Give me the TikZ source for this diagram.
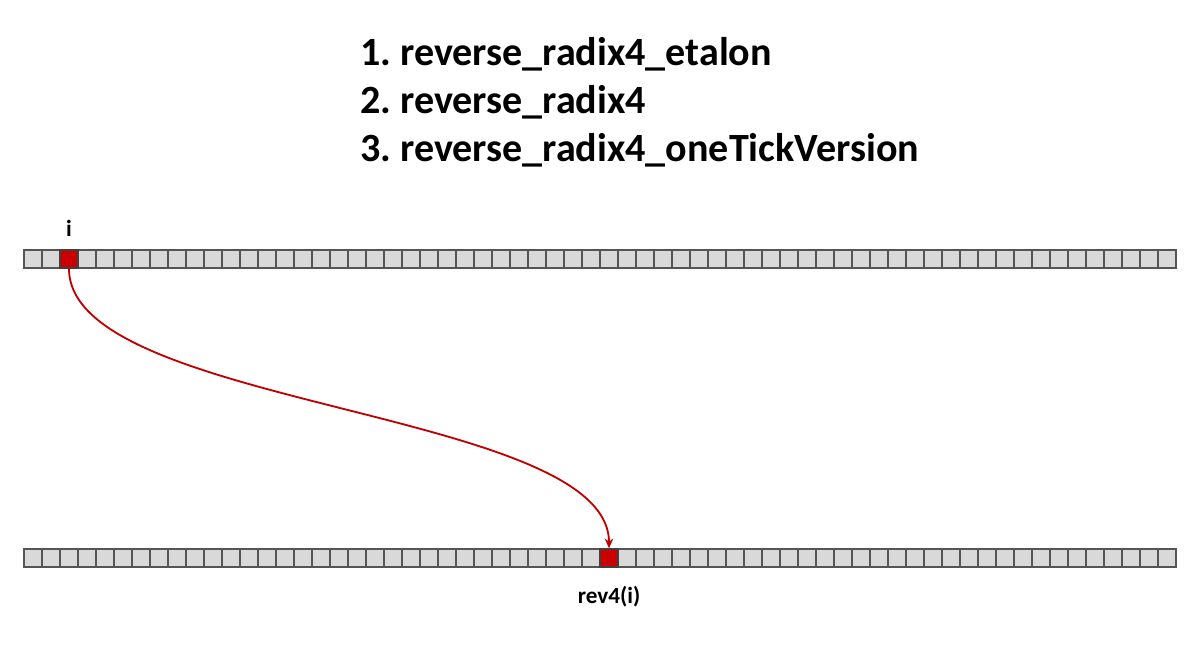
\documentclass[tikz,border=0pt]{standalone}
\usepackage{fontspec}
\setmainfont{Carlito}
\usepackage{tikz}
\usetikzlibrary{arrows.meta, positioning}
\definecolor{cellgray}{HTML}{D9D9D9}
\definecolor{celledge}{HTML}{555555}
\definecolor{hotred}{HTML}{CC0000}
\definecolor{linkred}{HTML}{C00000}
\frenchspacing

\begin{document}
\begin{tikzpicture}[
    x=0.025cm, y=-0.025cm, >={Stealth[length=7pt, width=6pt]},
    cell/.style={draw=celledge, fill=cellgray, minimum size=0.45cm, inner sep=0pt, line width=0.9pt},
    hot/.style={cell, fill=hotred, draw=black!75},
    title/.style={font=\bfseries\fontsize{28.5}{32}\selectfont, anchor=base west, inner sep=0pt},
    label/.style={font=\bfseries\fontsize{16.5}{18}\selectfont, inner sep=0pt},
    link/.style={->, draw=linkred, line width=1.3pt}
]
    \useasboundingbox (0,0) rectangle (1200,650);

    % Function names
    \node[title] (name1) at (360,66) {1. reverse\_radix4\_etalon};
    \node[title] (name2) at (360,113) {2. reverse\_radix4};
    \node[title] (name3) at (360,161) {3. reverse\_radix4\_oneTickVersion};

    % Source and target arrays
    \foreach \k in {0,...,63} {
        \node[cell] (top-\k) at ({33+18*\k},259) {};
        \node[cell] (bot-\k) at ({33+18*\k},558) {};
    }

    % Marked elements
    \node[hot] (src) at (top-2) {};
    \node[hot] (dst) at (bot-32) {};

    \node[label, above=9pt of src] (idx) {i};
    \node[label, below=13pt of dst] (rev) {rev4(i)};

    % Mapping
    \draw[link] (src.south) .. controls +(0,140) and +(0,-140) .. (dst.north);
\end{tikzpicture}
\end{document}
